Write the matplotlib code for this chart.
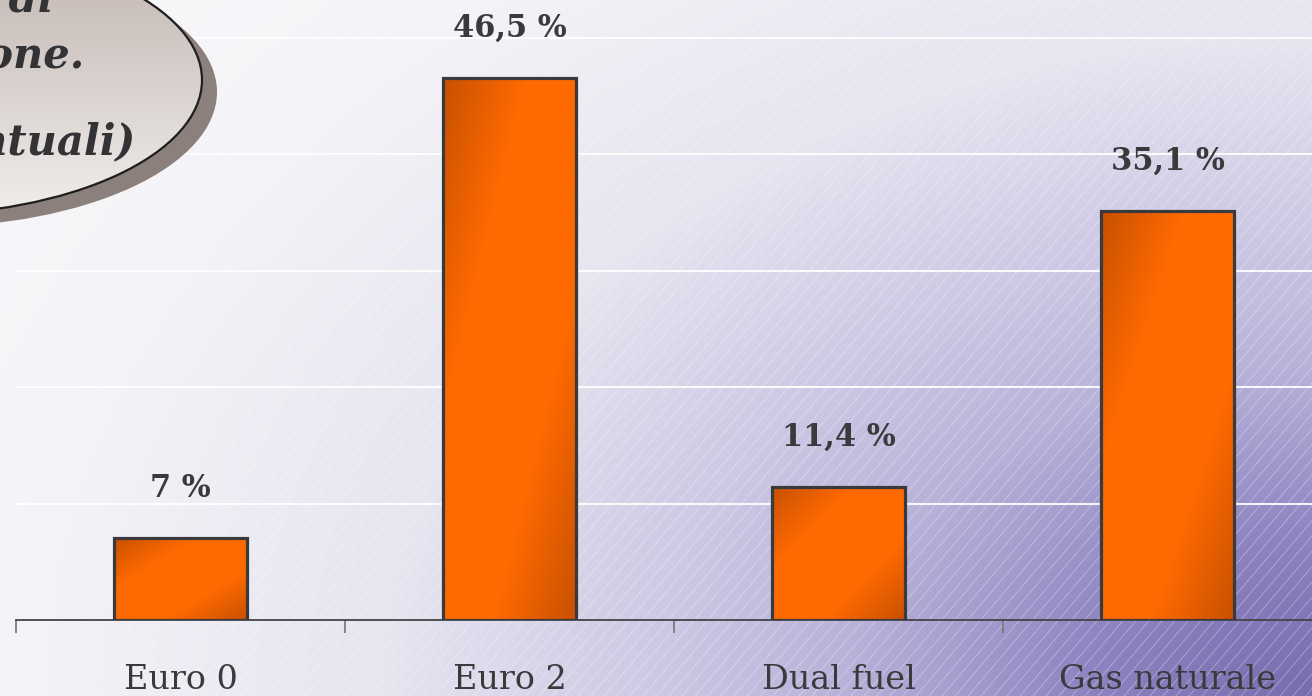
import numpy as np
import matplotlib
matplotlib.use("Agg")
import matplotlib.pyplot as plt
from matplotlib.patches import Ellipse
from matplotlib.colors import to_rgb

# ---- data ----
categories = ["Euro 0", "Euro 2", "Dual fuel", "Gas naturale"]
shares = [7.0, 46.5, 11.4, 35.1]
title_lines = ["Parco autobus per classe e tipo di", "alimentazione.", "(valori percentuali)"]

W, H = 1312, 696
fig = plt.figure(figsize=(W / 100, H / 100), dpi=100)

# ---- background: corner gradient towards lavender with fine white hatching ----
bg = fig.add_axes([0, 0, 1, 1])
bg.set_xlim(0, W)
bg.set_ylim(H, 0)
bg.axis("off")

yy, xx = np.mgrid[0:H, 0:W]
dx = (W - xx) / W
dy = (H - yy) / H
d = np.sqrt((1.2 * dx) ** 2 + (0.9 * dy) ** 2)
stops = [0.0, 0.2, 0.43, 0.6, 0.85, 1.2, 1.6]
cols = np.array([to_rgb(c) for c in ["#786cad", "#8c83c0", "#b9b2d9", "#cdc8e4",
                                     "#e6e5f0", "#f4f4f8", "#fafafc"]])
grad = np.stack([np.interp(d, stops, cols[:, k]) for k in range(3)], axis=-1)
bg.imshow(grad, extent=(0, W, H, 0), aspect="auto", zorder=0, interpolation="bilinear")

for c in range(-H, W + H, 13):
    bg.plot([c, c + H * 0.85], [H, 0], color="white", lw=0.6, alpha=0.35, zorder=1)
bg.set_xlim(0, W)
bg.set_ylim(H, 0)

# ---- bar chart ----
px_per_pct = (620 - 37.5) / 50.0
ax = fig.add_axes([16 / W, 76 / H, 1316 / W, 620 / H])
ax.patch.set_alpha(0)
x = np.arange(len(categories))
bars = ax.bar(x, shares, width=0.405, facecolor="none", edgecolor="#3a3a3c",
              linewidth=2.3, zorder=3)

dark = np.array(to_rgb("#c85000"))
bright = np.array(to_rgb("#ff6a00"))
gy, gx = np.mgrid[0:200, 0:100]
t = (gx / 99.0 + gy / 199.0) / 2.0
w = 1 - np.abs(2 * t - 1)
w = np.clip(w * 1.6, 0, 1)
bar_img = dark[None, None, :] * (1 - w[..., None]) + bright[None, None, :] * w[..., None]
for b in bars:
    x0, y0 = b.get_x(), b.get_y()
    im = ax.imshow(bar_img, extent=(x0, x0 + b.get_width(), y0, y0 + b.get_height()),
                   aspect="auto", zorder=2, interpolation="bilinear")
    im.set_clip_path(b)

for xi, v in zip(x, shares):
    label = (f"{v:g}".replace(".", ",")) + " %"
    ax.annotate(label, xy=(xi, v), xytext=(0, 30), textcoords="offset points",
                ha="center", va="baseline", fontsize=22, fontweight="bold",
                family="DejaVu Serif", color="#3a3a3c")

ax.set_xlim(-0.5, 3.5)
ax.set_ylim(0, 620 / px_per_pct)
ax.set_yticks([10, 20, 30, 40, 50])
ax.yaxis.grid(True, color="white", lw=1.5, alpha=0.9)
ax.set_axisbelow(True)
ax.tick_params(axis="y", length=0, labelleft=False)
for side in ["left", "right", "top"]:
    ax.spines[side].set_visible(False)
ax.spines["bottom"].set_color("#444448")
ax.spines["bottom"].set_linewidth(1.3)

ax.set_xticks(x)
ax.set_xticklabels(categories, family="DejaVu Serif", fontsize=24, color="#3a3a3c")
ax.tick_params(axis="x", which="major", length=0, pad=32)
ax.set_xticks(np.arange(-0.5, 4.0, 1.0), minor=True)
ax.tick_params(axis="x", which="minor", length=9, width=1.3, color="#7a7a7e")

# ---- title bubble ----
ov = fig.add_axes([0, 0, 1, 1])
ov.patch.set_alpha(0)
ov.set_xlim(0, W)
ov.set_ylim(H, 0)
ov.axis("off")

cx, cy, a, b2 = -90, 80, 292, 135
ov.add_patch(Ellipse((cx + 15, cy + 12), 2 * a, 2 * b2, facecolor="#8c807c",
                     edgecolor="none", zorder=1))
bub = Ellipse((cx, cy), 2 * a, 2 * b2, facecolor="none", edgecolor="none", zorder=2)
ov.add_patch(bub)
vy = np.linspace(0, 1, 256)[:, None] * np.ones((1, 4))
top_c = np.array(to_rgb("#c0b3af"))
bot_c = np.array(to_rgb("#f0eeec"))
bub_img = top_c[None, None, :] * (1 - vy[..., None]) + bot_c[None, None, :] * vy[..., None]
bim = ov.imshow(bub_img, extent=(cx - a, cx + a, cy + b2, cy - b2), aspect="auto",
                zorder=2, interpolation="bilinear")
bim.set_clip_path(bub)
ov.add_patch(Ellipse((cx, cy), 2 * a, 2 * b2, facecolor="none", edgecolor="#1e1e1e",
                     lw=1.6, zorder=3))

for (xe, yb), line in zip([(55, 12), (85, 68), (135, 155)], title_lines):
    ov.text(xe, yb, line, ha="right", va="baseline", fontsize=30, fontweight="bold",
            fontstyle="italic", family="DejaVu Serif", color="#333335", zorder=4)
ov.set_xlim(0, W)
ov.set_ylim(H, 0)

fig.savefig("out.png", dpi=100)
